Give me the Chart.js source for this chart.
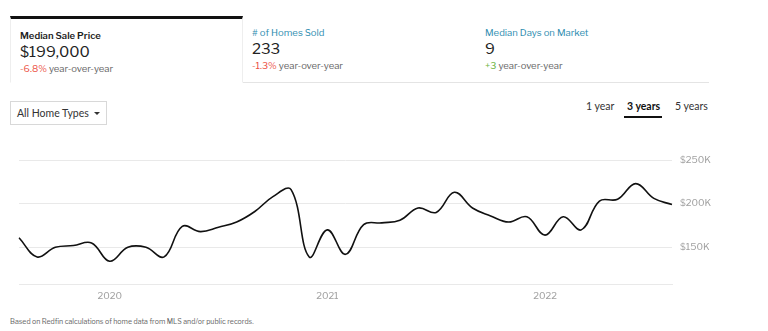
<!DOCTYPE html>
<html>
<head>
<meta charset="utf-8">
<script src="https://cdn.jsdelivr.net/npm/chart.js@4"></script>
<style>
  html, body { margin: 0; padding: 0; background: #fff; width: 768px; height: 331px; overflow: hidden; }
  body { position: relative; font-family: "Libre Franklin", Roboto, "Noto Sans", sans-serif; color: #222; }

  .tabs { position: absolute; left: 10px; top: 16px; width: 699px; height: 66px; border-bottom: 1px solid #e4e4e4; }
  .tab { position: absolute; top: 0; height: 66px; }
  .tab.active { left: 0; width: 231px; border-top: 3px solid #111; border-left: 1px solid #eee; border-right: 1px solid #eee; border-bottom: 1px solid #fff; height: 63px; background: #fff; }
  .tab .title { position: absolute; top: 11px; font-size: 9.5px; white-space: nowrap; }
  .tab .value { position: absolute; top: 24px; font-size: 15px; white-space: nowrap; }
  .tab .change { position: absolute; top: 44px; font-size: 9.5px; color: #666; white-space: nowrap; }
  .tab.active .title { font-weight: 600; color: #222; }
  .tab .title.link { color: #2e8db0; }
  .neg { color: #ec5143; }
  .pos { color: #6cb43f; }

  .select { position: absolute; left: 10px; top: 101px; width: 95px; height: 22px; border: 1px solid #d8d8d8; font-family: Lato, sans-serif; font-size: 10.5px; line-height: 22px; color: #333; }
  .select span { position: absolute; left: 6px; }
  .select .arrow { position: absolute; left: 83px; top: 10px; width: 0; height: 0; border-left: 3px solid transparent; border-right: 3px solid transparent; border-top: 3px solid #333; }

  .range { position: absolute; top: 100px; font-family: Lato, sans-serif; font-size: 10.5px; color: #333; white-space: nowrap; }
  .range.on { font-weight: 700; color: #111; }
  .underline { position: absolute; left: 624px; top: 116px; width: 38px; height: 2px; background: #111; }

  #wrap { position: absolute; left: 0; top: 140px; width: 768px; height: 170px; }
  .note { position: absolute; left: 10px; top: 317px; font-size: 7px; color: #666; white-space: nowrap; }
</style>
</head>
<body>

<div class="tabs">
  <div class="tab active">
    <div class="title" style="left:9px">Median Sale Price</div>
    <div class="value" style="left:9px">$199,000</div>
    <div class="change" style="left:9px"><span class="neg">-6.8%</span> year-over-year</div>
  </div>
  <div class="tab" style="left:242px">
    <div class="title link"># of Homes Sold</div>
    <div class="value">233</div>
    <div class="change"><span class="neg">-1.3%</span> year-over-year</div>
  </div>
  <div class="tab" style="left:475px">
    <div class="title link">Median Days on Market</div>
    <div class="value">9</div>
    <div class="change"><span class="pos">+3</span> year-over-year</div>
  </div>
</div>

<div class="select"><span>All Home Types</span><div class="arrow"></div></div>

<div class="range" style="left:586px">1 year</div>
<div class="range on" style="left:627px">3 years</div>
<div class="range" style="left:675px">5 years</div>
<div class="underline"></div>

<div id="wrap"><canvas id="priceChart"></canvas></div>

<div class="note">Based on Redfin calculations of home data from MLS and/or public records.</div>

<script>
// monthly median sale price, Aug 2019 .. Aug 2022 (thousands of $)
const months = [
  "2019-08", "2019-09", "2019-10", "2019-11", "2019-12",
  "2020-01", "2020-02", "2020-03", "2020-04", "2020-05", "2020-06",
  "2020-07", "2020-08", "2020-09", "2020-10", "2020-11", "2020-12",
  "2021-01", "2021-02", "2021-03", "2021-04", "2021-05", "2021-06",
  "2021-07", "2021-08", "2021-09", "2021-10", "2021-11", "2021-12",
  "2022-01", "2022-02", "2022-03", "2022-04", "2022-05", "2022-06",
  "2022-07", "2022-08"
];

const prices = [
  161, 139, 150, 152, 155,
  134, 150, 150, 139, 174, 168,
  173, 179, 191, 208, 216, 139,
  170, 142, 176, 178, 181, 195,
  190, 213, 195, 186, 179, 185,
  164, 185, 170, 203, 205, 223,
  206, 199
];

const yTicks = [150, 200, 250];

const gridColor = "#e9e9e9";
const labelColor = "#a0a0a0";
const axisFont = { family: "Libre Franklin, Roboto, sans-serif", size: 9.5 };

const PriceChart = {

    chart: null,

    init() {

        const canvas = document.getElementById("priceChart");

        this.chart = new Chart(canvas, {

            type: "line",

            data: {
                labels: months,
                datasets: [
                    {
                        label: "Median Sale Price",
                        data: prices.map(v => v * 1000),
                        borderColor: "#111",
                        borderWidth: 1.6,
                        pointRadius: 0,
                        tension: .4,
                        fill: false
                    }
                ]
            },

            options: {
                responsive: true,
                maintainAspectRatio: false,
                animation: false,
                layout: {
                    padding: { left: 19, right: 0, top: 20, bottom: 0 }
                },
                plugins: {
                    legend: { display: false },
                    tooltip: { enabled: false }
                },
                scales: {
                    x: {
                        grid: { display: false, drawTicks: false },
                        border: { display: true, color: gridColor, width: 1 },
                        afterFit(scale) { scale.height = 26; },
                        ticks: {
                            autoSkip: false,
                            maxRotation: 0,
                            padding: 6,
                            color: labelColor,
                            font: axisFont,
                            callback(value) {
                                const m = months[value];
                                return m.endsWith("-01") ? m.slice(0, 4) : "";
                            }
                        }
                    },
                    y: {
                        position: "right",
                        min: 108000,
                        max: 250000,
                        grid: { color: gridColor, drawTicks: false },
                        border: { display: false },
                        afterFit(scale) { scale.width = 96; },
                        afterBuildTicks(scale) {
                            scale.ticks = yTicks.map(v => ({ value: v * 1000 }));
                        },
                        ticks: {
                            padding: 8,
                            color: labelColor,
                            font: axisFont,
                            callback: v => "$" + (v / 1000) + "K"
                        }
                    }
                }
            }

        });

    }

};

PriceChart.init();
</script>
</body>
</html>
